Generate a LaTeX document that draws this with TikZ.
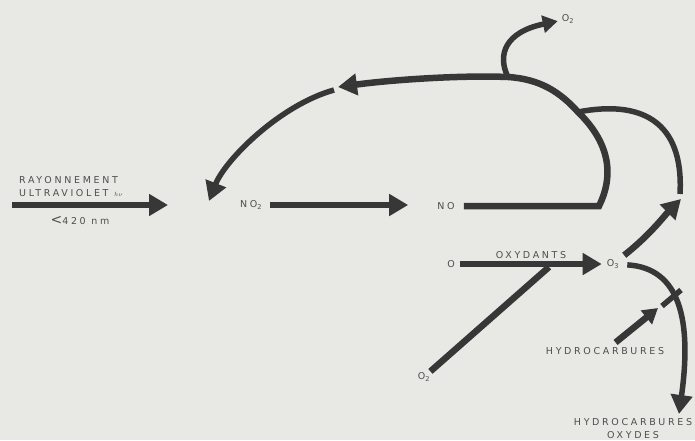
\documentclass[tikz,border=0pt]{standalone}
\usepackage{fontspec}
\usepackage{tikz}
\usetikzlibrary{arrows.meta}
\newfontfamily\labfont[LetterSpace=28]{DejaVu Sans}
\definecolor{paper}{RGB}{232,232,228}
\definecolor{ink}{RGB}{55,55,55}
\definecolor{pencil}{RGB}{78,78,78}

\begin{document}
\begin{tikzpicture}[x=1pt,y=-1pt,>={Triangle[length=19pt,width=21pt]},
  lbl/.style={text=pencil,font=\labfont\fontsize{9.5}{13}\selectfont,inner sep=1pt,align=center},
  flow/.style={draw=ink,line width=6.5pt},
  arc/.style={draw=ink,line width=5.5pt},
  small/.style={-{Triangle[length=15pt,width=17pt]}}]
\fill[paper] (0,0) rectangle (695,440);
\useasboundingbox (0,0) rectangle (695,440);
\node[lbl,align=left,anchor=west] (ray) at (18,187) {RAYONNEMENT\\ULTRAVIOLET {\fontsize{6}{6}\selectfont$h\nu$}};
\node[lbl] (nm) at (80,220) {{\fontsize{14}{14}\selectfont<}420 nm};
\node[lbl] (no2) at (251,205) {NO\textsubscript{2}};
\node[lbl] (no) at (446,206) {NO};
\node[lbl] (o) at (451,264) {O};
\node[lbl] (o3) at (613,264) {O\textsubscript{3}};
\node[lbl] (oxy) at (531,255) {OXYDANTS};
\node[lbl] (o2top) at (568,19) {O\textsubscript{2}};
\node[lbl] (o2low) at (424,377) {O\textsubscript{2}};
\node[lbl] (hc) at (605,351) {HYDROCARBURES};
\node[lbl] (hcox) at (633,429) {HYDROCARBURES\\OXYDES};
\coordinate (uvin) at (12,205);
\coordinate (uvout) at (168,205);
\coordinate (corner) at (599,206);
\coordinate (join) at (578,112);
\coordinate (fork) at (508,77);
\coordinate (back) at (338,87);
\coordinate (resume) at (334,90);
\coordinate (cycle) at (209,201);
\coordinate (rise) at (681,199);
\coordinate (merge) at (680,194);
\coordinate (hcin) at (658,308);
\coordinate (barlow) at (662,306);
\coordinate (barhigh) at (681,290);
\coordinate (down) at (679,414);
\coordinate (fix) at (549,267);
\draw[flow,->] (uvin) -- (uvout);
\draw[flow,->,shorten <=7pt,shorten >=28pt] (no2.east) -- (no2.east -| no.west);
\draw[flow,->,shorten <=8pt] (no.east) -- (corner) .. controls (613,178) and (612,145) .. (join) .. controls (560,92) and (540,79) .. (fork) .. controls (460,75) and (390,80) .. (back);
\draw[arc,small,shorten >=3pt] (fork) .. controls (497,55) and (505,32) .. (o2top);
\draw[arc,->] (resume) .. controls (280,105) and (225,160) .. (cycle);
\draw[arc] (merge) .. controls (684,120) and (640,100) .. (join);
\draw[flow,->,shorten <=5pt] (o3) .. controls (650,235) and (665,215) .. (rise);
\draw[flow] (o2low) -- (fix);
\draw[flow,->,shorten <=4pt,shorten >=4pt] (o.east) -- (o.east -| o3.west);
\draw[arc,->,shorten <=7pt] (o3) .. controls (680,268) and (692,320) .. (down);
\draw[flow,small,shorten <=6pt] (hc) -- (hcin);
\draw[arc] (barlow) -- (barhigh);
\end{tikzpicture}
\end{document}
